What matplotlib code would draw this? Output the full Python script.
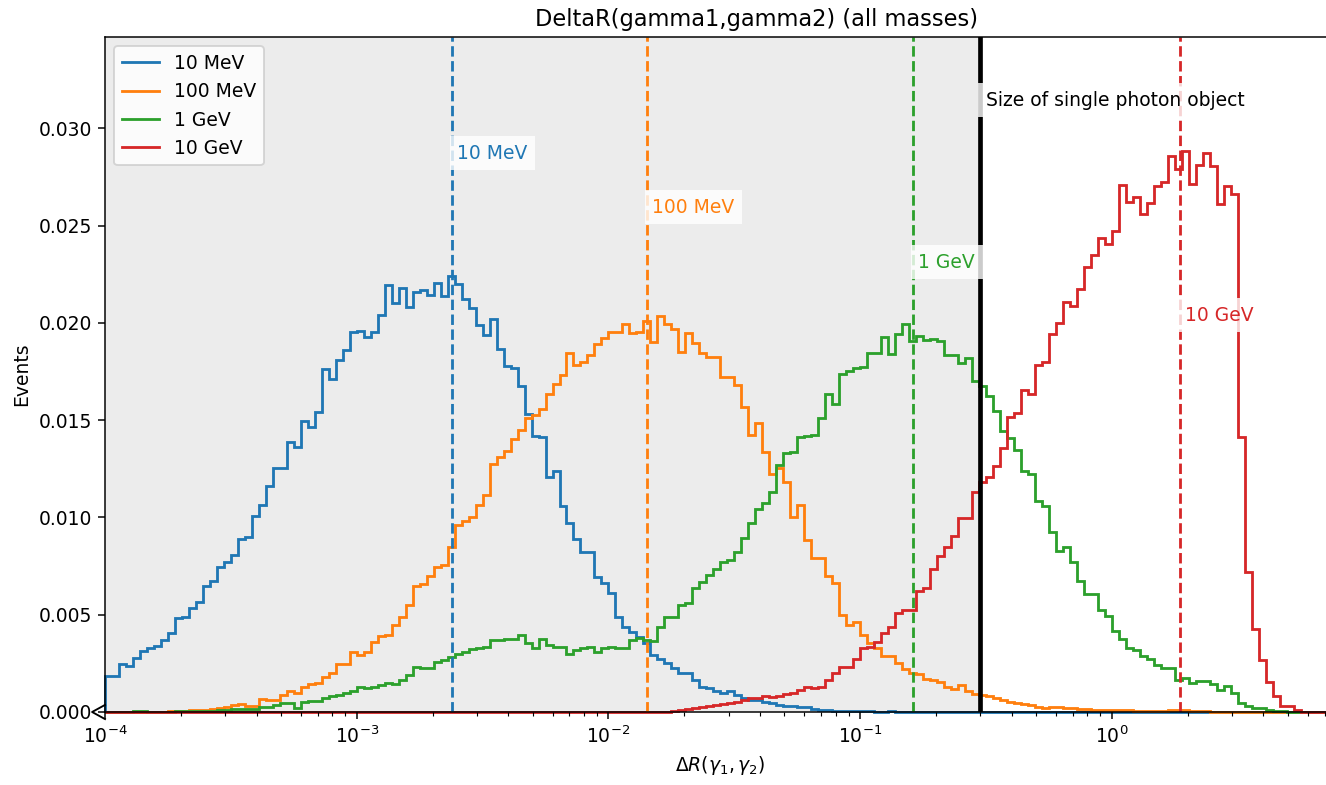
import numpy as np
import matplotlib
matplotlib.use("Agg")
import matplotlib.pyplot as plt

# 36 log bins per decade, starting at 1e-4
edges = np.logspace(-4, 1, 181)

masses = ["10 MeV", "100 MeV", "1 GeV", "10 GeV"]
colors = ["tab:blue", "tab:orange", "tab:green", "tab:red"]

# median DeltaR per mass and where its label sits
medians = [0.00239, 0.01423, 0.1622, 1.866]
label_y = [0.02872, 0.02594, 0.02312, 0.02039]

photon_size = 0.3

# normalised event fractions per bin
blue_vals = [
    0.00185, 0.00185, 0.00247, 0.00236, 0.00277, 0.00315, 0.00327, 0.00339, 0.0037, 0.00407,
    0.00481, 0.00486, 0.00533, 0.00567, 0.00647, 0.00674, 0.00743, 0.00772, 0.00807, 0.00887,
    0.00901, 0.0101, 0.01063, 0.01161, 0.01252, 0.01252, 0.01389, 0.0136, 0.01495, 0.01466,
    0.01543, 0.01762, 0.01714, 0.01812, 0.0186, 0.01954, 0.01959, 0.01928, 0.01954, 0.02039,
    0.02197, 0.02103, 0.02182, 0.02082, 0.02159, 0.02168, 0.02146, 0.02207, 0.02137, 0.0224,
    0.02202, 0.02125, 0.02077, 0.01988, 0.01937, 0.02019, 0.01868, 0.01777, 0.01766, 0.01675,
    0.01534, 0.01418, 0.01414, 0.01209, 0.0124, 0.01058, 0.00969, 0.00887, 0.00823, 0.00823,
    0.00695, 0.00664, 0.0061, 0.0049, 0.00438, 0.00413, 0.00387, 0.00353, 0.00293, 0.00271,
    0.00253, 0.00224, 0.00202, 0.00199, 0.00164, 0.0013, 0.00122, 0.00109, 0.00096, 0.00109,
    0.00087, 0.0007, 0.00062, 0.00062, 0.00053, 0.00048, 0.00036, 0.00031, 0.00031, 0.00027,
    0.00024, 0.00015, 0.00009, 0.00009, 0.00006, 0.00004, 0.00006, 0.00004, 0.00005, 0.00003,
    0.00002, 0.00002, 0.00003, 0.00002, 0.00002, 0.00001, 0.00002, 0.00001, 0.00001, 0.00002,
    0.00001, 0.00001, 0.00002, 0.00001, 0.00001,
]
orange_vals = [
    0.0, 0.0, 0.0, 0.0, 0.0, 0.0, 0.00001, 0.00002, 0.00002, 0.00005,
    0.00004, 0.00007, 0.00008, 0.0001, 0.0001, 0.00014, 0.00019, 0.00024, 0.00036, 0.00041,
    0.00031, 0.00031, 0.00065, 0.00063, 0.00063, 0.00087, 0.00109, 0.00099, 0.0013, 0.00144,
    0.00147, 0.00181, 0.00202, 0.00247, 0.00247, 0.0031, 0.00293, 0.0031, 0.00361, 0.0039,
    0.00396, 0.00447, 0.00486, 0.0055, 0.00647, 0.00658, 0.00699, 0.00747, 0.00755, 0.0085,
    0.0096, 0.00983, 0.01003, 0.01063, 0.01115, 0.01274, 0.01311, 0.01342, 0.01405, 0.01449,
    0.01509, 0.01526, 0.0156, 0.01637, 0.01688, 0.01731, 0.01846, 0.01783, 0.018, 0.01834,
    0.0189, 0.0192, 0.01954, 0.01954, 0.01993, 0.01949, 0.01954, 0.0201, 0.01902, 0.02034,
    0.01993, 0.01971, 0.01851, 0.01949, 0.01897, 0.01843, 0.01825, 0.01825, 0.01722, 0.01722,
    0.0168, 0.01568, 0.01423, 0.01486, 0.01337, 0.01226, 0.01252, 0.01183, 0.01003, 0.01063,
    0.00884, 0.0079, 0.0079, 0.00699, 0.00664, 0.00498, 0.00447, 0.00464, 0.00396, 0.00353,
    0.00327, 0.00288, 0.00288, 0.0025, 0.0022, 0.002, 0.00195, 0.0017, 0.00164, 0.00155,
    0.0013, 0.00118, 0.0014, 0.0011, 0.0009, 0.00085, 0.00082, 0.0007, 0.0006, 0.0005,
    0.00045, 0.0004, 0.00036, 0.00028, 0.00022, 0.00028, 0.00024, 0.0002, 0.00018, 0.00014,
    0.00013, 0.00012, 0.0001, 0.0001, 0.0001, 0.00008, 0.00008, 0.00006, 0.00006, 0.00005,
    0.00005, 0.00006, 0.00008, 0.0001, 0.00008, 0.00004, 0.00003, 0.00003, 0.00002, 0.00002,
    0.00001,
]
green_vals = [
    0.0, 0.0, 0.0, 0.0, 0.00004, 0.00004, 0.00001, 0.00001, 0.00002, 0.00002,
    0.00003, 0.00003, 0.00004, 0.00005, 0.00005, 0.00006, 0.00008, 0.0001, 0.00014, 0.00014,
    0.00014, 0.00014, 0.00024, 0.00024, 0.00036, 0.00045, 0.00045, 0.00019, 0.00053, 0.00058,
    0.00058, 0.0007, 0.00082, 0.00087, 0.00096, 0.0011, 0.0013, 0.00122, 0.00127, 0.00139,
    0.00147, 0.00144, 0.00164, 0.0019, 0.0023, 0.00224, 0.00224, 0.00259, 0.00267, 0.00284,
    0.00298, 0.0031, 0.00322, 0.00327, 0.00332, 0.0037, 0.0037, 0.00376, 0.00376, 0.00396,
    0.00353, 0.00327, 0.00373, 0.00344, 0.00336, 0.00336, 0.00298, 0.00318, 0.00327, 0.00332,
    0.0031, 0.00327, 0.00332, 0.00327, 0.00327, 0.0037, 0.00378, 0.0037, 0.00366, 0.00438,
    0.0049, 0.0049, 0.0055, 0.00558, 0.00635, 0.0067, 0.00704, 0.00733, 0.00772, 0.00781,
    0.00824, 0.00897, 0.00973, 0.01041, 0.01072, 0.01132, 0.01269, 0.01329, 0.01337, 0.01414,
    0.01418, 0.01423, 0.01509, 0.01634, 0.01582, 0.01736, 0.01753, 0.01766, 0.01774, 0.01846,
    0.01846, 0.01928, 0.01839, 0.01945, 0.01993, 0.01907, 0.01934, 0.01914, 0.01918, 0.01905,
    0.01837, 0.01837, 0.01793, 0.01818, 0.01703, 0.01674, 0.01626, 0.01549, 0.01443, 0.01408,
    0.01347, 0.01241, 0.01222, 0.01087, 0.01058, 0.00927, 0.00827, 0.00847, 0.00773, 0.00673,
    0.00606, 0.00606, 0.00523, 0.00491, 0.00414, 0.00375, 0.00327, 0.00317, 0.00289, 0.00273,
    0.00241, 0.00227, 0.00227, 0.00164, 0.00177, 0.0015, 0.00158, 0.00158, 0.00144, 0.00115,
    0.00135, 0.00096, 0.00048, 0.00029, 0.00023, 0.00019, 0.0001, 0.00006, 0.00004, 0.00002,
]
red_vals = [0.0] * 80 + [
    0.00002, 0.00005, 0.00008, 0.00014, 0.00019, 0.00027, 0.00031, 0.00036, 0.00041, 0.00046,
    0.00053, 0.00062, 0.0007, 0.0007, 0.0008, 0.00075, 0.00082, 0.00092, 0.00096, 0.00113,
    0.00127, 0.00122, 0.0013, 0.00164, 0.00199, 0.00233, 0.00233, 0.00271, 0.00327, 0.00336,
    0.00361, 0.00404, 0.00438, 0.0051, 0.00524, 0.00524, 0.0062, 0.00635, 0.00735, 0.00804,
    0.0085, 0.00904, 0.00997, 0.00997, 0.01131, 0.0118, 0.0121, 0.01264, 0.01356, 0.01516,
    0.01535, 0.01655, 0.01635, 0.01785, 0.01799, 0.01943, 0.02001, 0.02107, 0.02088, 0.02174,
    0.0229, 0.02347, 0.02438, 0.02405, 0.02472, 0.02709, 0.0262, 0.02646, 0.02559, 0.02617,
    0.02703, 0.02726, 0.02857, 0.0279, 0.02886, 0.02713, 0.02813, 0.02876, 0.02805, 0.02613,
    0.02703, 0.02665, 0.01414, 0.00722, 0.00427, 0.00269, 0.00154, 0.00081, 0.00029, 0.00029,
    0.0001,
]

series = [blue_vals, orange_vals, green_vals, red_vals]


def pad_to_bins(vals, n_bins):
    out = np.zeros(n_bins)
    out[:len(vals)] = vals
    return out


fig = plt.figure(figsize=(1326 / 135, 785 / 135), dpi=135)
ax = fig.add_axes([0.0792, 0.093, 0.9276, 0.8599])

ax.axvspan(1e-4, photon_size, color="gray", alpha=0.15, lw=0, zorder=0)

# not clipped so the zero line shows on both sides of the bottom spine
for vals, c, m in zip(series, colors, masses):
    ax.stairs(pad_to_bins(vals, len(edges) - 1), edges, color=c, label=m, lw=1.5, clip_on=False)

for med, c, m, y in zip(medians, colors, masses, label_y):
    ax.axvline(med, color=c, ls="--", lw=1.5)
    ax.text(med * 1.05, y, m, color=c, va="center",
            bbox=dict(facecolor="white", alpha=0.8, edgecolor="none"))

ax.axvline(photon_size, color="black", lw=2.5)
ax.text(photon_size * 1.05, 0.03144, "Size of single photon object", color="black", va="center",
        bbox=dict(facecolor="white", alpha=0.8, edgecolor="none"))

# small open caret on the left spine at y=0
ax.plot([0, -0.0105, 0], [0.0105, 0, -0.0105], transform=ax.transAxes,
        color="black", lw=1, clip_on=False)

ax.set_xscale("log")
ax.set_xlim(1e-4, 7.7)
ax.set_ylim(0, 0.0347)
ax.set_xlabel(r"$\Delta R(\gamma_1, \gamma_2)$")
ax.set_ylabel("Events")
ax.set_title("DeltaR(gamma1,gamma2) (all masses)", x=0.530)
ax.legend(loc="upper left")

fig.savefig("out.png", dpi=135)
